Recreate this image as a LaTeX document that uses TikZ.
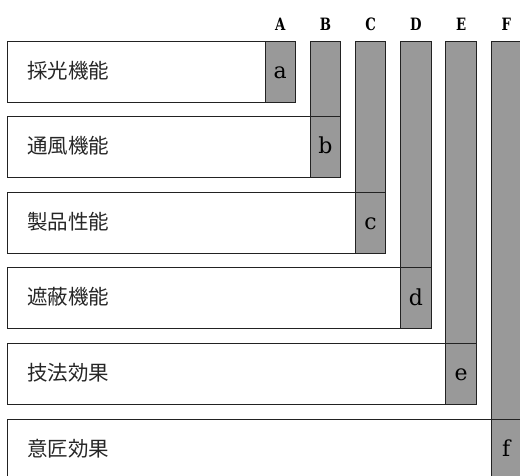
\documentclass[tikz,border=0pt]{standalone}
\usepackage{fontspec}
\newfontfamily\cjk{Noto Sans CJK JP}
\newfontfamily\cellfont{DejaVu Serif}
\definecolor{cellgray}{HTML}{999999}
\definecolor{edge}{HTML}{222222}
\tikzset{
  colbox/.style={draw=edge, fill=cellgray, line width=1pt},
  rowbox/.style={draw=edge, line width=1pt},
  rowtext/.style={anchor=base west, inner sep=0pt, font=\cjk\fontsize{20.5}{22}\selectfont, text=black!85},
  collabel/.style={anchor=base, inner sep=0pt, xscale=0.78, font=\cellfont\bfseries\fontsize{17}{19}\selectfont},
  celllabel/.style={anchor=base, inner sep=0pt, font=\cellfont\fontsize{22}{24}\selectfont}
}
\begin{document}
\begin{tikzpicture}[x=1pt,y=-1pt]
\useasboundingbox (0,0) rectangle (520,475);
\clip (0,0) rectangle (520,475);
\foreach \i/\L/\l/\t in {0/A/a/採光機能, 1/B/b/通風機能, 2/C/c/製品性能, 3/D/d/遮蔽機能, 4/E/e/技法効果, 5/F/f/意匠効果} {
  \pgfmathsetmacro\xl{265+45.2*\i}
  \pgfmathsetmacro\xr{\xl+30.5}
  \pgfmathsetmacro\xc{\xl+15.25}
  \pgfmathsetmacro\yt{41+75.6*\i}
  \pgfmathsetmacro\yb{\yt+61}
  \pgfmathsetmacro\yc{\yt+30.5}
  \draw[colbox] (\xl,41) rectangle (\xr,\yb);
  \draw[rowbox] (7,\yt) rectangle (\xr,\yb);
  \node[collabel] (lab\L) at (\xc,30.5) {\L};
  \node[celllabel] (cell\l) at (\xc,\yc+6.8) {\l};
  \node[rowtext] (row\L) at (27,\yc+6.5) {\t};
}
\end{tikzpicture}
\end{document}
